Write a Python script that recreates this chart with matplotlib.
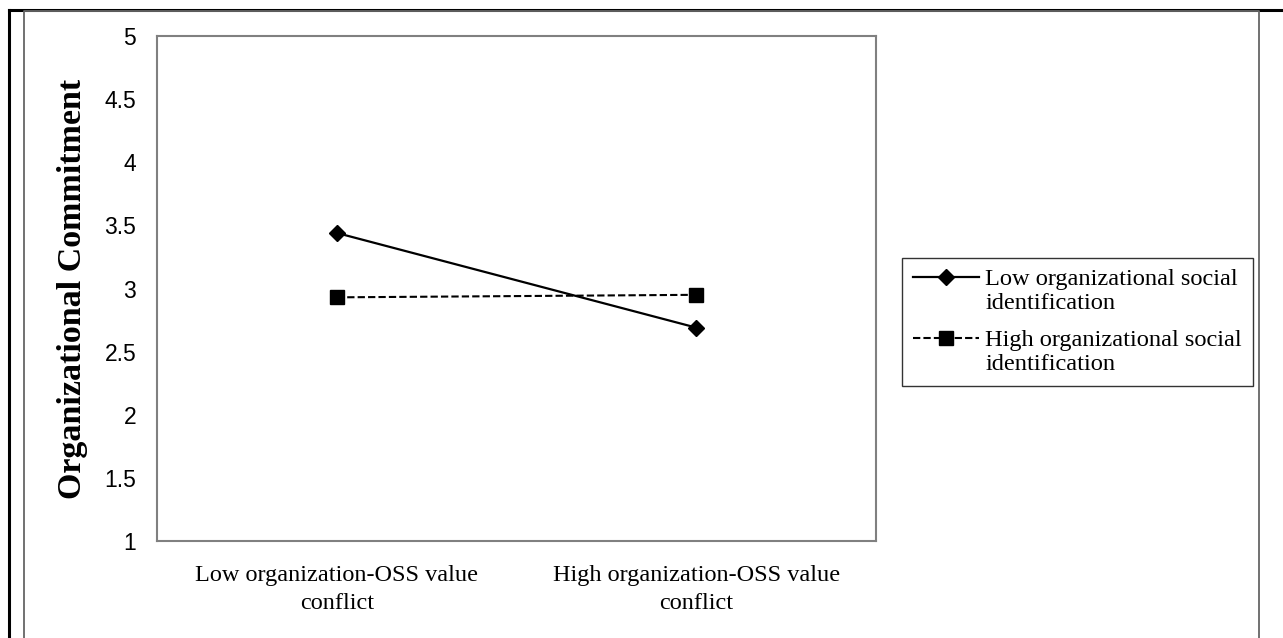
import numpy as np
import matplotlib.pyplot as plt
from matplotlib.lines import Line2D
from matplotlib.legend_handler import HandlerLine2D

# Data
categories = ['Low organization-OSS value\nconflict', 'High organization-OSS value\nconflict']
low_social_id = [3.44, 2.69]
high_social_id = [2.93, 2.95]
series_labels = ['Low organizational social\nidentification', 'High organizational social\nidentification']
y_ticks = [1, 1.5, 2, 2.5, 3, 3.5, 4, 4.5, 5]

serif = 'Liberation Serif'
sans = 'Liberation Sans'


# legend handle sits next to the first text line, like Excel does
class FirstLineHandler(HandlerLine2D):
    def create_artists(self, legend, orig_handle, xdescent, ydescent,
                       width, height, fontsize, trans):
        artists = super().create_artists(legend, orig_handle, xdescent, ydescent,
                                         width, height, fontsize, trans)
        for a in artists:
            a.set_ydata(np.asarray(a.get_ydata(), dtype=float) + 0.55 * fontsize)
        return artists


fig = plt.figure(figsize=(12.83, 6.38), dpi=100)
ax = fig.add_axes([0.1224, 0.152, 0.5604, 0.7916])

x = [0.5, 1.5]
ax.plot(x, low_social_id, color='black', linewidth=1.6, marker='D', markersize=8,
        label=series_labels[0])
ax.plot(x, high_social_id, color='black', linewidth=1.5, linestyle=(0, (3.5, 1.5)),
        marker='s', markersize=10, label=series_labels[1])

ax.set_xlim(0, 2)
ax.set_ylim(1, 5)
ax.set_yticks(y_ticks)
ax.set_yticklabels([f'{t:g}' for t in y_ticks], fontfamily=sans, fontsize=16.5)
ax.set_xticks(x)
ax.set_xticklabels(categories, fontfamily=serif, fontsize=17.5, linespacing=1.45)
ax.tick_params(axis='y', length=0, pad=15)
ax.tick_params(axis='x', length=0, pad=17)

for side in ax.spines.values():
    side.set_color('#808080')
    side.set_linewidth(1.5)

ax.set_ylabel('Organizational Commitment', fontfamily=serif, fontsize=24.5,
              fontweight='bold', va='center')
ax.yaxis.set_label_coords(-0.118, 0.5)

handler = FirstLineHandler()
leg = ax.legend(loc='upper left', bbox_to_anchor=(0.703, 0.596),
                bbox_transform=fig.transFigure, prop={'family': serif, 'size': 17.6},
                frameon=True, fancybox=False, handlelength=2.7, handletextpad=0.25,
                borderpad=0.45, labelspacing=0.65, borderaxespad=0,
                handler_map={Line2D: handler})
leg.get_frame().set_edgecolor('black')
leg.get_frame().set_linewidth(1.0)
for t in leg.get_texts():
    t.set_linespacing(1.2)

# Outer page borders
fig.add_artist(Line2D([8.5 / 1283, 1], [1 - 9.5 / 638, 1 - 9.5 / 638],
                      color='black', linewidth=2.2, transform=fig.transFigure))
fig.add_artist(Line2D([8.5 / 1283, 8.5 / 1283], [0, 1 - 9.5 / 638],
                      color='black', linewidth=2.2, transform=fig.transFigure))
fig.add_artist(Line2D([23.5 / 1283, 23.5 / 1283, 1259 / 1283, 1259 / 1283],
                      [0, 1 - 11 / 638, 1 - 11 / 638, 0],
                      color='#666666', linewidth=1.3, transform=fig.transFigure))

fig.savefig('out.png', dpi=100)
